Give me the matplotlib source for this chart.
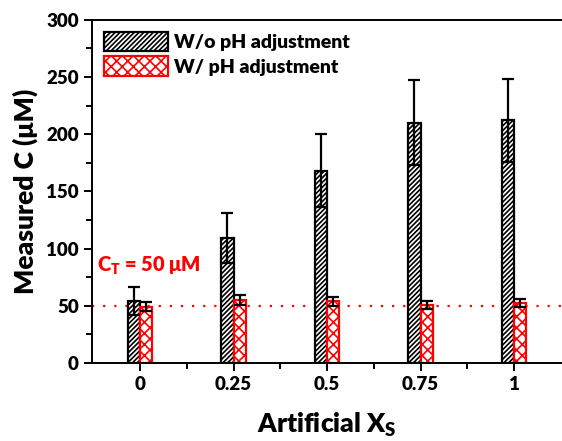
import numpy as np
import matplotlib
matplotlib.use('Agg')
import matplotlib.pyplot as plt

xs_labels = ['0', '0.25', '0.5', '0.75', '1']
xs = [0, 0.25, 0.5, 0.75, 1]
wo_ph = [54, 109, 168, 210, 212]
wo_ph_err = [12, 22, 32, 37, 36]
w_ph = [49, 55, 54, 51, 52]
w_ph_err = [4, 4, 4, 3.5, 3.5]
ct = 50

plt.rcParams['font.family'] = ['Lato', 'DejaVu Sans']
plt.rcParams['font.weight'] = 'heavy'
plt.rcParams['mathtext.default'] = 'regular'
plt.rcParams['hatch.linewidth'] = 1.2

fig = plt.figure(figsize=(5.62, 4.41), dpi=100)
ax = fig.add_axes([0.164, 0.177, 0.836, 0.778])

w = 0.033
x = np.array(xs)
ax.bar(x - w / 2, wo_ph, width=w, color='white', edgecolor='black',
       hatch='///////', linewidth=1.6, label='W/o pH adjustment', zorder=2)
ax.bar(x + w / 2, w_ph, width=w, color='white', edgecolor='red',
       hatch='xxx', linewidth=1.6, label='W/ pH adjustment', zorder=2)
ax.errorbar(x - w / 2, wo_ph, yerr=wo_ph_err, fmt='none', ecolor='black',
            elinewidth=1.6, capsize=4, capthick=1.6, zorder=3)
ax.errorbar(x + w / 2, w_ph, yerr=w_ph_err, fmt='none', ecolor='black',
            elinewidth=1.6, capsize=4, capthick=1.6, zorder=3)

ax.axhline(ct, color='red', linestyle=(0, (1, 4)), linewidth=1.6, zorder=1)
ax.text(-0.115, 85, r'C$_T$ = 50 μM', color='red', fontsize=14.5,
        fontweight='heavy', va='center', ha='left')

ax.set_xlim(-0.128, 1.128)
ax.set_ylim(0, 300)
ax.set_xticks(xs)
ax.set_xticklabels(xs_labels)
ax.set_xticks([0.125, 0.375, 0.625, 0.875], minor=True)
ax.set_yticks(np.arange(0, 301, 50))
ax.set_yticks(np.arange(25, 300, 50), minor=True)
ax.tick_params(axis='both', which='major', labelsize=13.5, length=6, width=1.4, direction='out')
ax.tick_params(axis='both', which='minor', length=4, width=1.4, direction='out')
ax.spines['right'].set_visible(False)
for s in ['left', 'bottom', 'top']:
    ax.spines[s].set_linewidth(1.4)

ax.set_ylabel('Measured C (μM)', fontsize=19, fontweight='heavy', labelpad=6)
ax.set_xlabel(r'Artificial X$_S$', fontsize=19, fontweight='heavy', labelpad=13)

ax.legend(loc='upper left', frameon=False, fontsize=14, handlelength=3.3,
          handleheight=1.2, borderaxespad=0.2, handletextpad=0.3, labelspacing=0.25)

fig.savefig('out.png', dpi=100)
